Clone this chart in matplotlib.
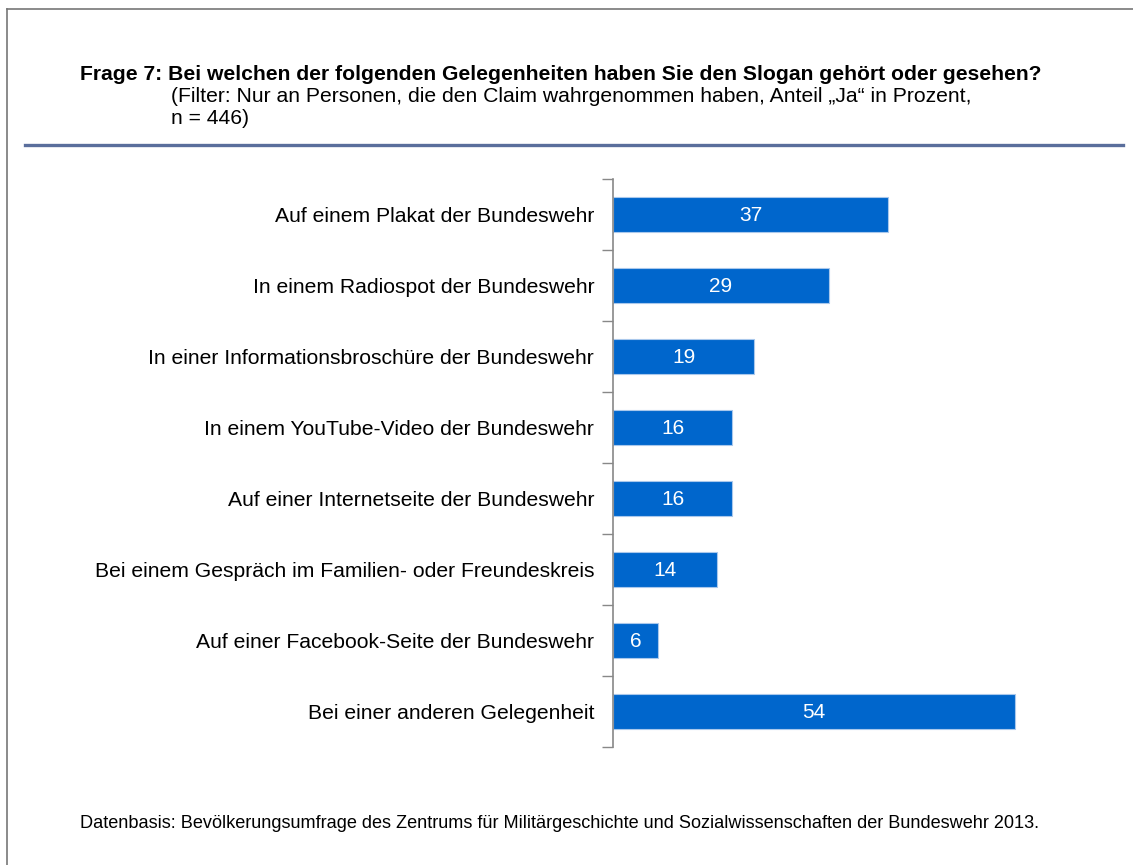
import matplotlib
matplotlib.use('Agg')
import matplotlib.pyplot as plt
from matplotlib.lines import Line2D
import numpy as np

plt.rcParams['font.family'] = ['Liberation Sans', 'DejaVu Sans']

# Data
categories = [
    'Auf einem Plakat der Bundeswehr',
    'In einem Radiospot der Bundeswehr',
    'In einer Informationsbroschüre der Bundeswehr',
    'In einem YouTube-Video der Bundeswehr',
    'Auf einer Internetseite der Bundeswehr',
    'Bei einem Gespräch im Familien- oder Freundeskreis',
    'Auf einer Facebook-Seite der Bundeswehr',
    'Bei einer anderen Gelegenheit',
]
values = [37, 29, 19, 16, 16, 14, 6, 54]

title = 'Frage 7: Bei welchen der folgenden Gelegenheiten haben Sie den Slogan gehört oder gesehen?'
subtitle_1 = '(Filter: Nur an Personen, die den Claim wahrgenommen haben, Anteil \u201eJa\u201c in Prozent,'
subtitle_2 = 'n = 446)'
footer = ('Datenbasis: Bevölkerungsumfrage des Zentrums für Militärgeschichte und '
          'Sozialwissenschaften der Bundeswehr 2013.')

W, H = 1133, 865
fig = plt.figure(figsize=(W / 100, H / 100), dpi=100)

# frame lines (top + left) and blue separator
fig.add_artist(Line2D([7 / W, 7 / W], [0, 1 - 9 / H], color='#777777', lw=1.2))
fig.add_artist(Line2D([7 / W, 1], [1 - 9 / H, 1 - 9 / H], color='#777777', lw=1.2))
fig.add_artist(Line2D([25 / W, 1123 / W], [1 - 145 / H, 1 - 145 / H], color='#5A6E9C', lw=2.4))

fig.text(80 / W, 1 - 75 / H, title, fontsize=15.2, fontweight='bold', va='center', ha='left')
fig.text(171 / W, 1 - 97 / H, subtitle_1, fontsize=15.2, va='center', ha='left')
fig.text(171 / W, 1 - 119 / H, subtitle_2, fontsize=15.2, va='center', ha='left')
fig.text(80 / W, 1 - 824 / H, footer, fontsize=13.1, va='center', ha='left')

# axes in pixel coords: x from 613, y 179..747
left, top, bottom = 613, 179, 747
xmax = 60
px_per_unit = (1015 - 613) / 54
ax = fig.add_axes([left / W, 1 - bottom / H, xmax * px_per_unit / W, (bottom - top) / H])

y = np.arange(len(categories))
ax.barh(y, values, height=0.48, color='#0066CC', edgecolor='#A9C8EC', linewidth=0.8)
for yi, v in zip(y, values):
    ax.text(v / 2, yi + 0.02, str(v), color='white', fontsize=15, ha='center', va='center')

ax.set_xlim(0, xmax)
ax.set_ylim(len(categories) - 0.5, -0.5)
ax.set_yticks(y)
ax.set_yticklabels(categories, fontsize=15.2)
ax.set_yticks(np.arange(-0.5, len(categories)), minor=True)
ax.tick_params(axis='y', which='major', length=0, pad=13.5)
ax.tick_params(axis='y', which='minor', length=8, width=1, color='#888888')
ax.set_xticks([])
for s in ['top', 'right', 'bottom']:
    ax.spines[s].set_visible(False)
ax.spines['left'].set_color('#888888')
ax.spines['left'].set_linewidth(1.2)

fig.savefig('out.png', dpi=100)
